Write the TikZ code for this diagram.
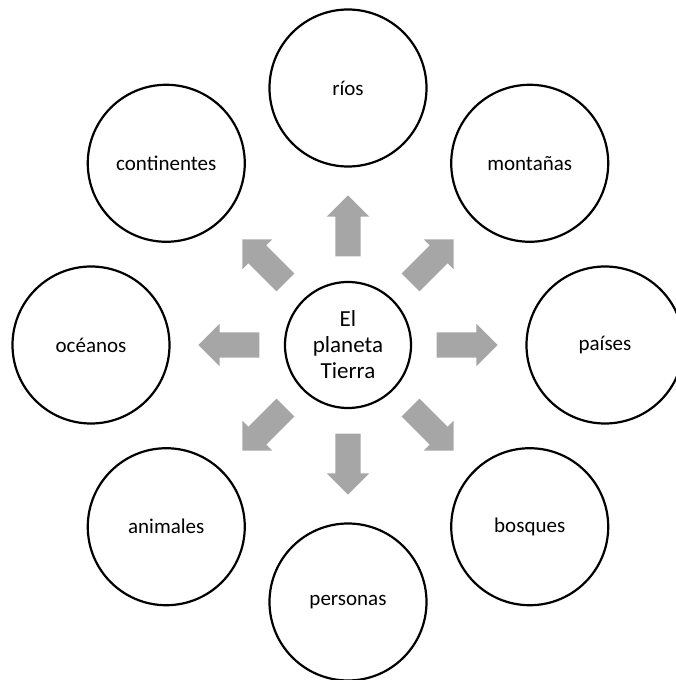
\documentclass[tikz,border=0pt]{standalone}
\usepackage{fontspec}
\setmainfont{Carlito}
\usetikzlibrary{shapes.arrows}
\definecolor{flecha}{RGB}{166,166,166}

\begin{document}
\begin{tikzpicture}[
x=1pt, y=1pt
]

\tikzstyle{c} = [draw, shape=circle, line width=2.2pt, minimum size=157pt, inner sep=0pt, font=\fontsize{21}{25}\selectfont]
\tikzstyle{m} = [draw, shape=circle, line width=2.2pt, minimum size=126pt, inner sep=0pt, align=center, font=\fontsize{23}{26}\selectfont]
\tikzstyle{f} = [fill=flecha, shape=single arrow, anchor=tail, minimum height=61pt, inner xsep=0pt, inner ysep=12.5pt, single arrow head extend=8.5pt]

\useasboundingbox (-348,-335) rectangle (327,345);

\node[m] (tierra) at (0,0) {El\\planeta\\Tierra};

\node[c] (rios) at (90:257) {ríos};
\node[c] (montanas) at (45:257) {montañas};
\node[c] (paises) at (0:257) {países};
\node[c] (bosques) at (-45:257) {bosques};
\node[c] (personas) at (-90:257) {personas};
\node[c] (animales) at (-135:257) {animales};
\node[c] (oceanos) at (180:257) {océanos};
\node[c] (continentes) at (135:257) {continentes};

\foreach \a/\n in {90/1, 45/2, 0/3, -45/4, -90/5, -135/6, 180/7, 135/8}
	\node[f, rotate=\a] (f\n) at (\a:88.3) {};

\end{tikzpicture}
\end{document}
